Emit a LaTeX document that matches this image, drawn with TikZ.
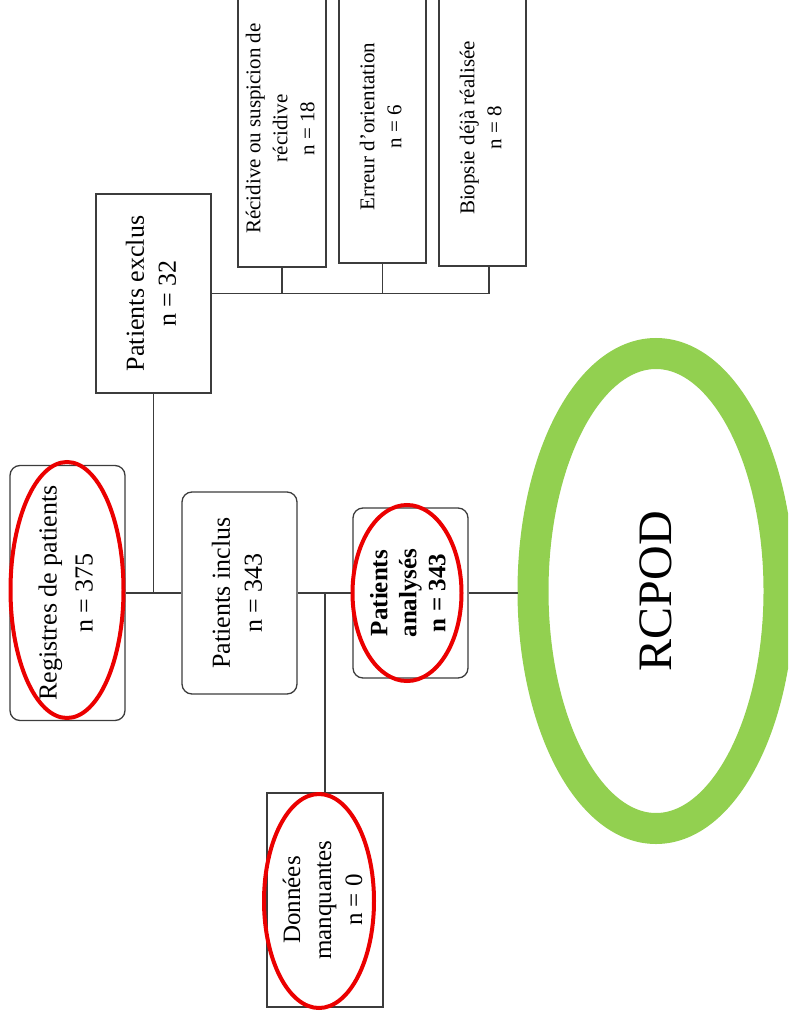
\documentclass[tikz,border=0pt]{standalone}
\usepackage{fontspec}
\setmainfont{Liberation Serif}
\usepackage{graphicx}
\usetikzlibrary{shapes.geometric}
\definecolor{vert}{RGB}{146,208,80}
\definecolor{rouge}{RGB}{235,0,0}
\definecolor{trait}{RGB}{60,60,60}
\newcommand{\vtxt}[1]{\rotatebox{90}{\begin{tabular}{@{}c@{}}#1\end{tabular}}}
\begin{document}
\begin{tikzpicture}[x=1pt,y=-1pt,
	boite/.style={draw=trait,line width=1.3pt,inner sep=0pt,font=\fontsize{26}{32}\selectfont},
	arrondi/.style={boite,rounded corners=10pt},
	petite/.style={boite,font=\fontsize{21}{27}\selectfont},
	anneau/.style={rouge,line width=4pt},
	lien/.style={draw=trait,line width=1.3pt}]
	\useasboundingbox (0,0) rectangle (788,1027);
	\clip (0,0) rectangle (788,1027);
	% colonne de gauche
	\node[arrondi,minimum width=115pt,minimum height=255pt,font=\fontsize{26}{36}\selectfont] (reg) at (67.5,593) {\vtxt{Registres de patients\\n = 375}};
	\node[boite,minimum width=115pt,minimum height=199pt] (exclus) at (153.5,293.5) {\vtxt{Patients exclus\\n = 32}};
	\node[arrondi,minimum width=115pt,minimum height=202pt] (inclus) at (239.5,593) {\vtxt{Patients inclus\\n = 343}};
	\node[arrondi,minimum width=115pt,minimum height=170pt,font=\fontsize{25}{29}\selectfont\bfseries] (analyses) at (410.5,593) {\vtxt{Patients\\analysés\\n = 343}};
	\node[boite,minimum width=116pt,minimum height=214pt,font=\fontsize{25}{31}\selectfont] (donnees) at (325,900) {\vtxt{Données\\manquantes\\n = 0}};
	% motifs d'exclusion
	\node[petite,minimum width=88pt,minimum height=277pt] (recid) at (282,128.5) {\vtxt{Récidive ou suspicion de\\récidive\\n = 18}};
	\node[petite,minimum width=87pt,minimum height=273pt] (erreur) at (382.5,126.5) {\vtxt{Erreur d'orientation\\n = 6}};
	\node[petite,minimum width=87pt,minimum height=276pt] (biop) at (482.5,128) {\vtxt{Biopsie déjà réalisée\\n = 8}};
	\coordinate (bpied) at ([xshift=6.5pt]biop.south);
	\node[ellipse,draw=vert,line width=31pt,minimum width=246pt,minimum height=475pt,inner sep=0pt,font=\fontsize{48}{56}\selectfont] (rcpod) at (656,591) {\rotatebox{90}{RCPOD}};
	% liens
	\draw[lien] (reg.east) -- (inclus.west);
	\draw[lien] (exclus.south) -- (exclus.south |- reg.east);
	\draw[lien] (exclus.east) -- (bpied |- exclus.east) -- (bpied);
	\draw[lien] (recid.south) -- (recid.south |- exclus.east);
	\draw[lien] (erreur.south) -- (erreur.south |- exclus.east);
	\draw[lien] (inclus.east) -- (analyses.west);
	\draw[lien] (donnees.north) -- (donnees.north |- inclus.east);
	\draw[lien] (analyses.east) -- (analyses.east -| rcpod.west);
	% cercles rouges
	\draw[anneau] ([shift={(-0.5,-3)}]reg.center) ellipse [x radius=56.5pt, y radius=128pt];
	\draw[anneau] ([shift={(-3.5,0)}]analyses.center) ellipse [x radius=54.5pt, y radius=88pt];
	\draw[anneau] ([shift={(-6,1)}]donnees.center) ellipse [x radius=55pt, y radius=107pt];
\end{tikzpicture}
\end{document}
